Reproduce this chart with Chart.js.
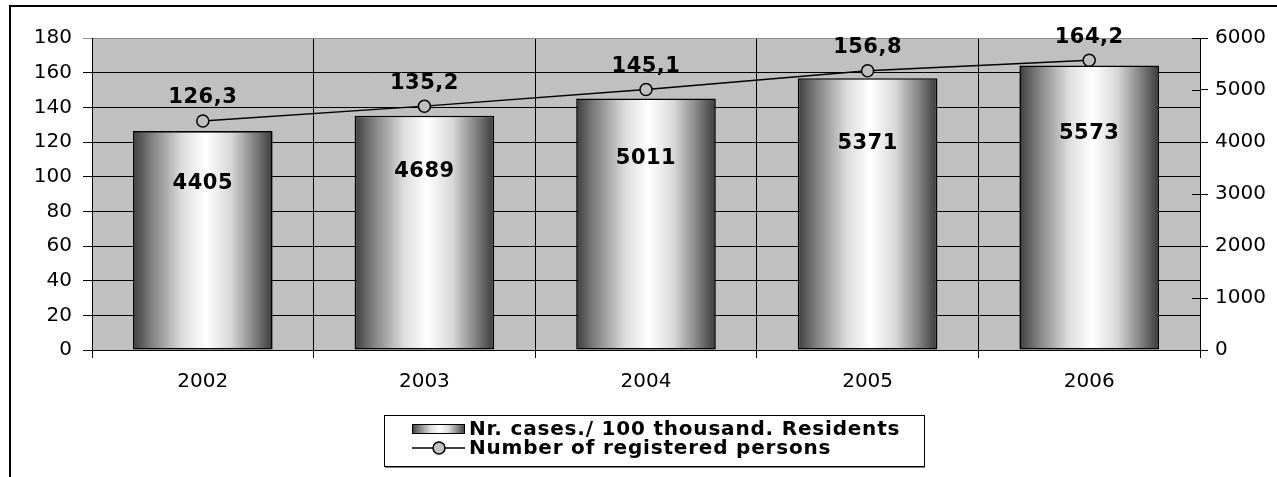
<!DOCTYPE html>
<html>
<head>
<meta charset="utf-8">
<script src="https://cdn.jsdelivr.net/npm/chart.js@4"></script>
<style>
  body { margin: 0; background: #fff; }
  #wrap { width: 1277px; height: 477px; position: relative; }
</style>
</head>
<body>
<div id="wrap"><canvas id="chart" width="1277" height="477"></canvas></div>
<script>
// data
const years = ['2002', '2003', '2004', '2005', '2006'];
const casesPer100k = [126.3, 135.2, 145.1, 156.8, 164.2];
const registeredPersons = [4405, 4689, 5011, 5371, 5573];
const seriesNames = ['Nr. cases./ 100 thousand. Residents', 'Number of registered persons'];
const leftTicks = [0, 20, 40, 60, 80, 100, 120, 140, 160, 180];
const rightTicks = [0, 1000, 2000, 3000, 4000, 5000, 6000];

const FONT = "'DejaVu Sans', Verdana, sans-serif";
const PLOT_BG = '#c0c0c0';

function cylGradient(ctx, x0, x1) {
  const g = ctx.createLinearGradient(x0, 0, x1, 0);
  g.addColorStop(0, '#3e3e3e');
  g.addColorStop(0.12, '#7a7a7a');
  g.addColorStop(0.35, '#dcdcdc');
  g.addColorStop(0.52, '#ffffff');
  g.addColorStop(0.7, '#d8d8d8');
  g.addColorStop(0.88, '#7c7c7c');
  g.addColorStop(1, '#3a3a3a');
  return g;
}

const barPct = 0.63;

// background of plot area + outer frame
const framePlugin = {
  id: 'frame',
  beforeDraw(chart) {
    const { ctx, chartArea: a } = chart;
    ctx.save();
    ctx.fillStyle = '#fff';
    ctx.fillRect(0, 0, chart.width, chart.height);
    ctx.fillStyle = PLOT_BG;
    ctx.fillRect(a.left, a.top, a.right - a.left, a.bottom - a.top);
    ctx.strokeStyle = '#000';
    ctx.lineWidth = 2;
    ctx.strokeRect(10, 6, chart.width + 20, chart.height + 20);
    ctx.restore();
  },
  afterDraw(chart) {
    // inner part of right axis tick marks
    const { ctx, chartArea: a } = chart;
    const y1 = chart.scales.y1;
    ctx.save();
    ctx.strokeStyle = '#000';
    ctx.lineWidth = 1;
    rightTicks.forEach(v => {
      const y = Math.round(y1.getPixelForValue(v)) + 0.5;
      ctx.beginPath();
      ctx.moveTo(a.right - 8, y);
      ctx.lineTo(a.right, y);
      ctx.stroke();
    });
    ctx.restore();
  }
};

// value labels: bars carry the persons count, line points carry the rate
const labelPlugin = {
  id: 'labels',
  afterDatasetsDraw(chart) {
    const { ctx } = chart;
    const bars = chart.getDatasetMeta(0).data;
    const pts = chart.getDatasetMeta(1).data;
    ctx.save();
    ctx.font = 'bold 21px ' + FONT;
    ctx.letterSpacing = '0.5px';
    ctx.fillStyle = '#000';
    ctx.textAlign = 'center';
    ctx.textBaseline = 'middle';
    bars.forEach((b, i) => {
      const h = b.base - b.y;
      ctx.fillText(String(registeredPersons[i]), b.x, b.y + h * 0.24);
    });
    pts.forEach((p, i) => {
      ctx.fillText(casesPer100k[i].toFixed(1).replace('.', ','), p.x, p.y - 23);
    });
    ctx.restore();
  }
};

// boxed legend under the chart
const legendPlugin = {
  id: 'boxLegend',
  afterDraw(chart) {
    const { ctx } = chart;
    const bx = 384, by = 415, bw = 540, bh = 51;
    ctx.save();
    ctx.fillStyle = '#fff';
    ctx.fillRect(bx, by, bw, bh);
    ctx.strokeStyle = '#000';
    ctx.lineWidth = 1;
    ctx.strokeRect(bx + 0.5, by + 0.5, bw, bh);
    ctx.strokeStyle = '#808080';
    ctx.beginPath();
    ctx.moveTo(bx + 1, by + bh + 1.5);
    ctx.lineTo(bx + bw + 1, by + bh + 1.5);
    ctx.stroke();

    const row1 = by + 14, row2 = by + 33;
    // bar swatch
    ctx.fillStyle = cylGradient(ctx, 412, 465);
    ctx.fillRect(412, row1 - 5, 53, 10);
    ctx.strokeStyle = '#000';
    ctx.lineWidth = 1;
    ctx.strokeRect(412.5, row1 - 4.5, 52, 9);
    // line swatch
    ctx.lineWidth = 1.3;
    ctx.beginPath();
    ctx.moveTo(412, row2);
    ctx.lineTo(465, row2);
    ctx.stroke();
    ctx.beginPath();
    ctx.arc(439, row2, 6, 0, Math.PI * 2);
    ctx.fillStyle = PLOT_BG;
    ctx.fill();
    ctx.lineWidth = 1.5;
    ctx.stroke();

    ctx.fillStyle = '#000';
    ctx.font = 'bold 20px ' + FONT;
    ctx.letterSpacing = '0.8px';
    ctx.textAlign = 'left';
    ctx.textBaseline = 'middle';
    ctx.fillText(seriesNames[0], 469, row1 + 1);
    ctx.fillText(seriesNames[1], 469, row2 + 1);
    ctx.restore();
  }
};

new Chart(document.getElementById('chart'), {
  data: {
    labels: years,
    datasets: [
      {
        type: 'bar',
        label: seriesNames[0],
        data: casesPer100k,
        yAxisID: 'y',
        order: 2,
        barPercentage: barPct,
        categoryPercentage: 1,
        borderColor: '#000',
        borderWidth: 1.6,
        borderSkipped: false,
        backgroundColor(c) {
          const chart = c.chart;
          const xs = chart.scales.x;
          if (!xs || !chart.chartArea) return '#999';
          const cx = xs.getPixelForValue(c.dataIndex);
          const w = (chart.chartArea.right - chart.chartArea.left) / years.length * barPct;
          return cylGradient(chart.ctx, cx - w / 2, cx + w / 2);
        }
      },
      {
        type: 'line',
        label: seriesNames[1],
        data: registeredPersons,
        yAxisID: 'y1',
        order: 1,
        borderColor: '#000',
        borderWidth: 1.4,
        tension: 0,
        pointRadius: 6,
        pointBackgroundColor: PLOT_BG,
        pointBorderColor: '#000',
        pointBorderWidth: 1.5
      }
    ]
  },
  options: {
    responsive: false,
    animation: false,
    layout: { padding: { top: 38, left: 0, right: 0, bottom: 0 } },
    plugins: { legend: { display: false }, tooltip: { enabled: false } },
    scales: {
      x: {
        offset: true,
        grid: { offset: true, color: '#000', lineWidth: 1, tickLength: 8 },
        border: { color: '#000', width: 1 },
        ticks: { color: '#000', font: { family: FONT, size: 20 }, padding: 12 },
        afterFit(s) { s.height = 127; }
      },
      y: {
        position: 'left',
        min: 0, max: 180,
        afterBuildTicks(s) { s.ticks = leftTicks.map(v => ({ value: v })); },
        grid: {
          color(c) { return c.tick && c.tick.value === 180 ? '#8c8c8c' : '#000'; },
          lineWidth: 1, tickLength: 9
        },
        border: { color: '#000', width: 1 },
        ticks: { color: '#000', font: { family: FONT, size: 20 }, padding: 11 },
        afterFit(s) { s.width = 92; }
      },
      y1: {
        position: 'right',
        min: 0, max: 6000,
        afterBuildTicks(s) { s.ticks = rightTicks.map(v => ({ value: v })); },
        grid: { drawOnChartArea: false, color: '#000', lineWidth: 1, tickLength: 8 },
        border: { color: '#000', width: 1 },
        ticks: {
          color: '#000', font: { family: FONT, size: 20 }, padding: 7,
          callback: v => String(v)
        },
        afterFit(s) { s.width = 77; }
      }
    }
  },
  plugins: [framePlugin, labelPlugin, legendPlugin]
});
</script>
</body>
</html>
